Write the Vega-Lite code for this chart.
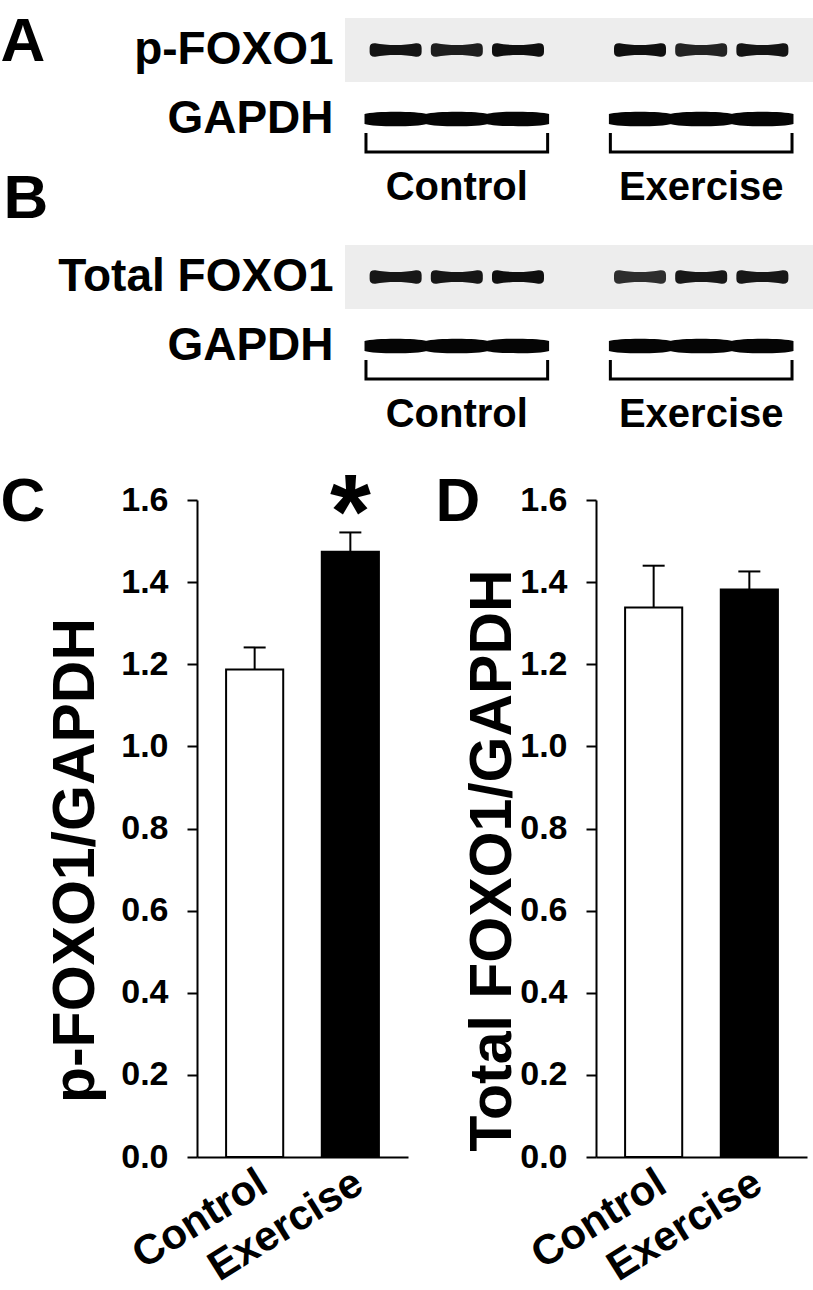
{
  "$schema": "https://vega.github.io/schema/vega-lite/v6.json",
  "background": "white",
  "padding": {"left": 0, "top": 10, "right": 0, "bottom": 0},
  "config": {
    "view": {"stroke": null},
    "font": "Liberation Sans",
    "text": {"font": "Liberation Sans"},
    "axis": {"labelColor": "black", "titleColor": "black", "labelFont": "Liberation Sans", "titleFont": "Liberation Sans", "labelFontWeight": "bold", "titleFontWeight": "bold", "grid": false}
  },
  "datasets": {
    "blotA": [
      {"protein": "p-FOXO1", "role": "target", "group": "Control", "lane": 1, "intensity": 0.97},
      {"protein": "p-FOXO1", "role": "target", "group": "Control", "lane": 2, "intensity": 0.92},
      {"protein": "p-FOXO1", "role": "target", "group": "Control", "lane": 3, "intensity": 0.99},
      {"protein": "p-FOXO1", "role": "target", "group": "Exercise", "lane": 1, "intensity": 0.99},
      {"protein": "p-FOXO1", "role": "target", "group": "Exercise", "lane": 2, "intensity": 0.9},
      {"protein": "p-FOXO1", "role": "target", "group": "Exercise", "lane": 3, "intensity": 0.97},
      {"protein": "GAPDH", "role": "loading", "group": "Control", "lane": 1, "intensity": 1},
      {"protein": "GAPDH", "role": "loading", "group": "Control", "lane": 2, "intensity": 1},
      {"protein": "GAPDH", "role": "loading", "group": "Control", "lane": 3, "intensity": 1},
      {"protein": "GAPDH", "role": "loading", "group": "Exercise", "lane": 1, "intensity": 1},
      {"protein": "GAPDH", "role": "loading", "group": "Exercise", "lane": 2, "intensity": 1},
      {"protein": "GAPDH", "role": "loading", "group": "Exercise", "lane": 3, "intensity": 1}
    ],
    "blotB": [
      {"protein": "Total FOXO1", "role": "target", "group": "Control", "lane": 1, "intensity": 0.95},
      {"protein": "Total FOXO1", "role": "target", "group": "Control", "lane": 2, "intensity": 0.96},
      {"protein": "Total FOXO1", "role": "target", "group": "Control", "lane": 3, "intensity": 0.99},
      {"protein": "Total FOXO1", "role": "target", "group": "Exercise", "lane": 1, "intensity": 0.85},
      {"protein": "Total FOXO1", "role": "target", "group": "Exercise", "lane": 2, "intensity": 0.95},
      {"protein": "Total FOXO1", "role": "target", "group": "Exercise", "lane": 3, "intensity": 0.95},
      {"protein": "GAPDH", "role": "loading", "group": "Control", "lane": 1, "intensity": 1},
      {"protein": "GAPDH", "role": "loading", "group": "Control", "lane": 2, "intensity": 1},
      {"protein": "GAPDH", "role": "loading", "group": "Control", "lane": 3, "intensity": 1},
      {"protein": "GAPDH", "role": "loading", "group": "Exercise", "lane": 1, "intensity": 1},
      {"protein": "GAPDH", "role": "loading", "group": "Exercise", "lane": 2, "intensity": 1},
      {"protein": "GAPDH", "role": "loading", "group": "Exercise", "lane": 3, "intensity": 1}
    ],
    "barsC": [
      {"group": "Control", "mean": 1.187, "upper": 1.241, "sig": ""},
      {"group": "Exercise", "mean": 1.474, "upper": 1.521, "sig": "*"}
    ],
    "barsD": [
      {"group": "Control", "mean": 1.338, "upper": 1.44, "sig": ""},
      {"group": "Exercise", "mean": 1.382, "upper": 1.426, "sig": ""}
    ]
  },
  "spacing": 30,
  "vconcat": [
    {
      "bounds": "flush",
      "spacing": 0,
      "hconcat": [
        {
          "width": 148,
          "height": 1,
          "data": {"values": []},
          "mark": {"type": "point", "opacity": 0}
        },
        {
          "bounds": "flush",
          "spacing": 94,
          "vconcat": [
            {
              "width": 468,
              "height": 133,
              "data": {"name": "blotA"},
              "encoding": {
                "y": {"field": "protein", "type": "nominal", "sort": ["p-FOXO1", "GAPDH"], "scale": {"type": "band", "paddingInner": 0.07, "paddingOuter": 0},
                  "axis": {"title": "A", "titleAngle": 0, "titleAlign": "left", "titleBaseline": "alphabetic", "titleX": -345, "titleY": 42, "titleFontSize": 62, "domain": false, "ticks": false, "labelFontSize": 46, "labelPadding": 12, "labelLimit": 400}}
              },
              "layer": [
                {
                  "transform": [{"filter": "datum.role === 'target'"}, {"aggregate": [{"op": "count", "as": "n"}], "groupby": ["protein"]}],
                  "mark": {"type": "rect", "fill": "#ededed"}
                },
                {
                  "transform": [{"filter": "datum.role === 'target'"}],
                  "mark": {"type": "point", "shape": "M-1,-0.08 C-1,-0.22 -0.92,-0.27 -0.78,-0.26 C-0.35,-0.17 0.35,-0.17 0.78,-0.26 C0.92,-0.27 1,-0.22 1,-0.08 L1,0.08 C1,0.22 0.92,0.27 0.78,0.26 C0.35,0.17 -0.35,0.17 -0.78,0.26 C-0.92,0.27 -1,0.22 -1,0.08 Z", "size": 2704, "filled": true, "color": "#0c0c0c", "strokeWidth": 0},
                  "encoding": {
                    "x": {"field": "group", "type": "nominal", "sort": ["Control", "Exercise"], "scale": {"type": "band", "paddingInner": 0.249, "paddingOuter": 0.082}, "axis": {"title": null, "domain": false, "ticks": false, "labelFontSize": 40, "labelPadding": 16, "labelAngle": 0}},
                    "xOffset": {"field": "lane", "type": "ordinal", "scale": {"type": "band", "paddingInner": 0, "paddingOuter": 0}},
                    "opacity": {"field": "intensity", "type": "quantitative", "scale": null, "legend": null}
                  }
                },
                {
                  "transform": [{"filter": "datum.role === 'loading'"}],
                  "mark": {"type": "point", "shape": "M-1.01,-0.16 C-0.7,-0.26 0.7,-0.26 1.01,-0.16 L1.01,0.16 C0.7,0.26 -0.7,0.26 -1.01,0.16 Z", "size": 3795, "filled": true, "color": "#050505", "strokeWidth": 0, "opacity": 1},
                  "encoding": {
                    "x": {"field": "group", "type": "nominal", "sort": ["Control", "Exercise"], "scale": {"type": "band", "paddingInner": 0.249, "paddingOuter": 0.082}, "axis": {"title": null, "domain": false, "ticks": false, "labelFontSize": 40, "labelPadding": 16, "labelAngle": 0}},
                    "xOffset": {"field": "lane", "type": "ordinal", "scale": {"type": "band", "paddingInner": 0, "paddingOuter": 0}}
                  }
                },
                {
                  "transform": [{"filter": "datum.role === 'loading'"}, {"aggregate": [{"op": "count", "as": "n"}], "groupby": ["protein", "group"]}],
                  "mark": {"type": "point", "shape": "M-1,0.154 L-1,0.363 L1,0.363 L1,0.154", "size": 33000, "filled": false, "stroke": "black", "strokeWidth": 3, "opacity": 1},
                  "encoding": {
                    "x": {"field": "group", "type": "nominal", "sort": ["Control", "Exercise"], "scale": {"type": "band", "paddingInner": 0.249, "paddingOuter": 0.082}, "axis": {"title": null, "domain": false, "ticks": false, "labelFontSize": 40, "labelPadding": 16, "labelAngle": 0}}
                  }
                }
              ]
            },
            {
              "width": 468,
              "height": 133,
              "data": {"name": "blotB"},
              "encoding": {
                "y": {"field": "protein", "type": "nominal", "sort": ["Total FOXO1", "GAPDH"], "scale": {"type": "band", "paddingInner": 0.07, "paddingOuter": 0},
                  "axis": {"title": "B", "titleAngle": 0, "titleAlign": "left", "titleBaseline": "alphabetic", "titleX": -342, "titleY": -28, "titleFontSize": 62, "domain": false, "ticks": false, "labelFontSize": 46, "labelPadding": 12, "labelLimit": 400}}
              },
              "layer": [
                {
                  "transform": [{"filter": "datum.role === 'target'"}, {"aggregate": [{"op": "count", "as": "n"}], "groupby": ["protein"]}],
                  "mark": {"type": "rect", "fill": "#ededed"}
                },
                {
                  "transform": [{"filter": "datum.role === 'target'"}],
                  "mark": {"type": "point", "shape": "M-1,-0.08 C-1,-0.22 -0.92,-0.27 -0.78,-0.26 C-0.35,-0.17 0.35,-0.17 0.78,-0.26 C0.92,-0.27 1,-0.22 1,-0.08 L1,0.08 C1,0.22 0.92,0.27 0.78,0.26 C0.35,0.17 -0.35,0.17 -0.78,0.26 C-0.92,0.27 -1,0.22 -1,0.08 Z", "size": 2704, "filled": true, "color": "#0c0c0c", "strokeWidth": 0},
                  "encoding": {
                    "x": {"field": "group", "type": "nominal", "sort": ["Control", "Exercise"], "scale": {"type": "band", "paddingInner": 0.249, "paddingOuter": 0.082}, "axis": {"title": null, "domain": false, "ticks": false, "labelFontSize": 40, "labelPadding": 16, "labelAngle": 0}},
                    "xOffset": {"field": "lane", "type": "ordinal", "scale": {"type": "band", "paddingInner": 0, "paddingOuter": 0}},
                    "opacity": {"field": "intensity", "type": "quantitative", "scale": null, "legend": null}
                  }
                },
                {
                  "transform": [{"filter": "datum.role === 'loading'"}],
                  "mark": {"type": "point", "shape": "M-1.01,-0.16 C-0.7,-0.26 0.7,-0.26 1.01,-0.16 L1.01,0.16 C0.7,0.26 -0.7,0.26 -1.01,0.16 Z", "size": 3795, "filled": true, "color": "#050505", "strokeWidth": 0, "opacity": 1},
                  "encoding": {
                    "x": {"field": "group", "type": "nominal", "sort": ["Control", "Exercise"], "scale": {"type": "band", "paddingInner": 0.249, "paddingOuter": 0.082}, "axis": {"title": null, "domain": false, "ticks": false, "labelFontSize": 40, "labelPadding": 16, "labelAngle": 0}},
                    "xOffset": {"field": "lane", "type": "ordinal", "scale": {"type": "band", "paddingInner": 0, "paddingOuter": 0}}
                  }
                },
                {
                  "transform": [{"filter": "datum.role === 'loading'"}, {"aggregate": [{"op": "count", "as": "n"}], "groupby": ["protein", "group"]}],
                  "mark": {"type": "point", "shape": "M-1,0.154 L-1,0.363 L1,0.363 L1,0.154", "size": 33000, "filled": false, "stroke": "black", "strokeWidth": 3, "opacity": 1},
                  "encoding": {
                    "x": {"field": "group", "type": "nominal", "sort": ["Control", "Exercise"], "scale": {"type": "band", "paddingInner": 0.249, "paddingOuter": 0.082}, "axis": {"title": null, "domain": false, "ticks": false, "labelFontSize": 40, "labelPadding": 16, "labelAngle": 0}}
                  }
                }
              ]
            }
          ]
        }
      ]
    },
    {
      "bounds": "flush",
      "spacing": 188,
      "hconcat": [
        {
          "width": 211,
          "height": 657,
          "data": {"name": "barsC"},
          "encoding": {
            "x": {"field": "group", "type": "nominal", "sort": ["Control", "Exercise"], "scale": {"type": "band", "paddingInner": 0.403, "paddingOuter": 0.304},
              "axis": {"title": "C", "titleAngle": 0, "titleAlign": "left", "titleBaseline": "alphabetic", "titleX": -197, "titleY": -637, "titleFontSize": 62, "domainColor": "black", "domainWidth": 2, "ticks": false, "labelAngle": -32, "labelAlign": "right", "labelBaseline": "top", "labelFontSize": 42, "labelPadding": 5, "labelOffset": -2}}
          },
          "layer": [
            {
              "mark": {"type": "bar", "stroke": "black", "strokeWidth": 2},
              "encoding": {
                "y": {"field": "mean", "type": "quantitative", "scale": {"domain": [0, 1.6], "nice": false},
                  "axis": {"title": "p-FOXO1/GAPDH", "values": [0, 0.2, 0.4, 0.6, 0.8, 1, 1.2, 1.4, 1.6], "format": ".1f", "labelFontSize": 34, "labelPadding": 19, "tickSize": 10, "tickWidth": 2, "tickColor": "black", "domainColor": "black", "domainWidth": 2, "titleFontSize": 59, "titleY": 360, "titlePadding": 15, "labelOverlap": false}},
                "fill": {"field": "group", "type": "nominal", "scale": {"domain": ["Control", "Exercise"], "range": ["white", "black"]}, "legend": null}
              }
            },
            {
              "mark": {"type": "rule", "color": "black", "strokeWidth": 2},
              "encoding": {
                "y": {"field": "mean", "type": "quantitative",
                  "axis": {"title": "p-FOXO1/GAPDH", "values": [0, 0.2, 0.4, 0.6, 0.8, 1, 1.2, 1.4, 1.6], "format": ".1f", "labelFontSize": 34, "labelPadding": 19, "tickSize": 10, "tickWidth": 2, "tickColor": "black", "domainColor": "black", "domainWidth": 2, "titleFontSize": 59, "titleY": 360, "titlePadding": 15, "labelOverlap": false}},
                "y2": {"field": "upper"}
              }
            },
            {
              "mark": {"type": "tick", "color": "black", "size": 22, "thickness": 2, "opacity": 1},
              "encoding": {
                "y": {"field": "upper", "type": "quantitative",
                  "axis": {"title": "p-FOXO1/GAPDH", "values": [0, 0.2, 0.4, 0.6, 0.8, 1, 1.2, 1.4, 1.6], "format": ".1f", "labelFontSize": 34, "labelPadding": 19, "tickSize": 10, "tickWidth": 2, "tickColor": "black", "domainColor": "black", "domainWidth": 2, "titleFontSize": 59, "titleY": 360, "titlePadding": 15, "labelOverlap": false}}
              }
            },
            {
              "transform": [{"filter": "datum.sig !== ''"}],
              "mark": {"type": "text", "fontSize": 105, "fontWeight": "bold", "baseline": "alphabetic", "dy": 16, "color": "black"},
              "encoding": {
                "y": {"field": "upper", "type": "quantitative",
                  "axis": {"title": "p-FOXO1/GAPDH", "values": [0, 0.2, 0.4, 0.6, 0.8, 1, 1.2, 1.4, 1.6], "format": ".1f", "labelFontSize": 34, "labelPadding": 19, "tickSize": 10, "tickWidth": 2, "tickColor": "black", "domainColor": "black", "domainWidth": 2, "titleFontSize": 59, "titleY": 360, "titlePadding": 15, "labelOverlap": false}},
                "text": {"field": "sig"}
              }
            }
          ]
        },
        {
          "width": 211,
          "height": 657,
          "data": {"name": "barsD"},
          "encoding": {
            "x": {"field": "group", "type": "nominal", "sort": ["Control", "Exercise"], "scale": {"type": "band", "paddingInner": 0.403, "paddingOuter": 0.304},
              "axis": {"title": "D", "titleAngle": 0, "titleAlign": "left", "titleBaseline": "alphabetic", "titleX": -161, "titleY": -637, "titleFontSize": 62, "domainColor": "black", "domainWidth": 2, "ticks": false, "labelAngle": -32, "labelAlign": "right", "labelBaseline": "top", "labelFontSize": 42, "labelPadding": 5, "labelOffset": -2}}
          },
          "layer": [
            {
              "mark": {"type": "bar", "stroke": "black", "strokeWidth": 2},
              "encoding": {
                "y": {"field": "mean", "type": "quantitative", "scale": {"domain": [0, 1.6], "nice": false},
                  "axis": {"title": "Total FOXO1/GAPDH", "values": [0, 0.2, 0.4, 0.6, 0.8, 1, 1.2, 1.4, 1.6], "format": ".1f", "labelFontSize": 34, "labelPadding": 19, "tickSize": 10, "tickWidth": 2, "tickColor": "black", "domainColor": "black", "domainWidth": 2, "titleFontSize": 59, "titleY": 360, "titlePadding": -3, "labelOverlap": false}},
                "fill": {"field": "group", "type": "nominal", "scale": {"domain": ["Control", "Exercise"], "range": ["white", "black"]}, "legend": null}
              }
            },
            {
              "mark": {"type": "rule", "color": "black", "strokeWidth": 2},
              "encoding": {
                "y": {"field": "mean", "type": "quantitative",
                  "axis": {"title": "Total FOXO1/GAPDH", "values": [0, 0.2, 0.4, 0.6, 0.8, 1, 1.2, 1.4, 1.6], "format": ".1f", "labelFontSize": 34, "labelPadding": 19, "tickSize": 10, "tickWidth": 2, "tickColor": "black", "domainColor": "black", "domainWidth": 2, "titleFontSize": 59, "titleY": 360, "titlePadding": -3, "labelOverlap": false}},
                "y2": {"field": "upper"}
              }
            },
            {
              "mark": {"type": "tick", "color": "black", "size": 22, "thickness": 2, "opacity": 1},
              "encoding": {
                "y": {"field": "upper", "type": "quantitative",
                  "axis": {"title": "Total FOXO1/GAPDH", "values": [0, 0.2, 0.4, 0.6, 0.8, 1, 1.2, 1.4, 1.6], "format": ".1f", "labelFontSize": 34, "labelPadding": 19, "tickSize": 10, "tickWidth": 2, "tickColor": "black", "domainColor": "black", "domainWidth": 2, "titleFontSize": 59, "titleY": 360, "titlePadding": -3, "labelOverlap": false}}
              }
            }
          ]
        }
      ]
    }
  ]
}
